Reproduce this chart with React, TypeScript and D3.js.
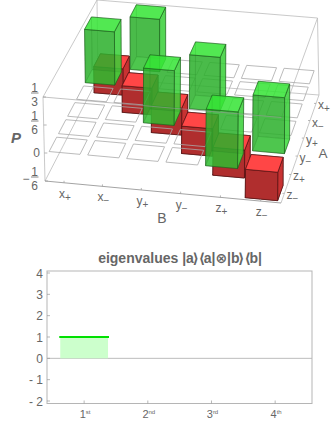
import React from "react";
import * as d3 from "d3";

const bLabels = ["x", "x", "y", "y", "z", "z"];
const signs = ["+", "-", "+", "-", "+", "-"];
const bKeys = ["x+", "x-", "y+", "y-", "z+", "z-"];
// rows run back to front along the A axis
const aKeys = ["x+", "x-", "y+", "y-", "z+", "z-"];
const pRows = [
  [-1 / 6, 1 / 3, 0, 0, 0, 0],
  [1 / 3, -1 / 6, 0, 0, 0, 0],
  [0, 0, -1 / 6, 1 / 3, 0, 0],
  [0, 0, 1 / 3, -1 / 6, 0, 0],
  [0, 0, 0, 0, -1 / 6, 1 / 3],
  [0, 0, 0, 0, 1 / 3, -1 / 6],
];
const pTicks = [
  { v: -1 / 6, n: "1", d: "6", neg: true },
  { v: 0, n: "0", d: "", neg: false },
  { v: 1 / 6, n: "1", d: "6", neg: false },
  { v: 1 / 3, n: "1", d: "3", neg: false },
];
const eigenvalues = [1, 0, 0, 0];
const ordinals = [["1", "st"], ["2", "nd"], ["3", "rd"], ["4", "th"]];
const eigenTicks = [-2, -1, 0, 1, 2, 3, 4];

type Pt = [number, number];

// unit square -> quad (front-left, front-right, back-right, back-left)
function homography(q: Pt[]) {
  const [p0, p1, p2, p3] = q;
  const dx1 = p1[0] - p2[0], dx2 = p3[0] - p2[0], sx = p0[0] - p1[0] + p2[0] - p3[0];
  const dy1 = p1[1] - p2[1], dy2 = p3[1] - p2[1], sy = p0[1] - p1[1] + p2[1] - p3[1];
  const det = dx1 * dy2 - dx2 * dy1;
  const g = (sx * dy2 - dx2 * sy) / det;
  const h = (dx1 * sy - sx * dy1) / det;
  const a = p1[0] - p0[0] + g * p1[0], b = p3[0] - p0[0] + h * p3[0];
  const d = p1[1] - p0[1] + g * p1[1], e = p3[1] - p0[1] + h * p3[1];
  return (u: number, v: number): Pt => {
    const w = g * u + h * v + 1;
    return [(a * u + b * v + p0[0]) / w, (d * u + e * v + p0[1]) / w];
  };
}

const floorH = homography([[45, 181], [281, 203], [319, 95], [98, 78]]);
const topH = homography([[43, 97], [281.5, 117.5], [317.5, 18], [97, 0]]);

const zScale = d3.scaleLinear().domain([-1 / 6, 1 / 3]).range([0, 1]);
const bScale = d3.scaleBand<string>().domain(bKeys).range([0, 1]).paddingInner(0.2).paddingOuter(0.1);
const aScale = d3.scaleBand<string>().domain([...aKeys].reverse()).range([0, 1]).paddingInner(0.2).paddingOuter(0.1);

function project(u: number, v: number, z: number): Pt {
  const t = zScale(z);
  const f = floorH(u, v);
  const c = topH(u, v);
  return [f[0] + (c[0] - f[0]) * t, f[1] + (c[1] - f[1]) * t];
}

const poly = d3.line<Pt>().curve(d3.curveLinearClosed);
const seg = d3.line<Pt>();

const GREY = "#666";
const BOX = "#bbb";
const FONT = "'Liberation Sans', 'DejaVu Sans', Arial, sans-serif";

function Bar({ u, v, w, val }: { u: number; v: number; w: number; val: number }) {
  const u1 = u + w, v1 = v + w;
  if (val === 0) {
    return <path d={poly([project(u, v, 0), project(u1, v, 0), project(u1, v1, 0), project(u, v1, 0)])!} fill="none" stroke="#aaa" strokeWidth={0.8} />;
  }
  const up = val > 0;
  const side = up ? "#2bb02b" : "#b02e2e";
  const right = up ? "#3cdc3c" : "#c83232";
  const top = up ? "#38f838" : "#ff4646";
  const op = up ? 0.62 : 1;
  const lo = Math.min(0, val), hi = Math.max(0, val);
  const face = (a: [number, number, number][]) => poly(a.map((p) => project(p[0], p[1], p[2])))!;
  // hidden faces first, then the three the viewer faces
  const faces: [string, string, number][] = [
    [face([[u, v1, lo], [u1, v1, lo], [u1, v1, hi], [u, v1, hi]]), side, 0.35],
    [face([[u, v, lo], [u, v1, lo], [u, v1, hi], [u, v, hi]]), side, 0.35],
    [face([[u, v, lo], [u1, v, lo], [u1, v1, lo], [u, v1, lo]]), right, 0.35],
    [face([[u1, v, lo], [u1, v1, lo], [u1, v1, hi], [u1, v, hi]]), right, 0.8],
    [face([[u, v, lo], [u1, v, lo], [u1, v, hi], [u, v, hi]]), side, 0.8],
    [face([[u, v, hi], [u1, v, hi], [u1, v1, hi], [u, v1, hi]]), top, 0.8],
  ];
  return (
    <g>
      {faces.map(([d, c, so], i) => (
        <path key={i} d={d} fill={c} fillOpacity={op} stroke={up ? "#1c5a1c" : "#4a1010"} strokeOpacity={up ? so : 0.9} strokeWidth={0.7} strokeLinejoin="round" />
      ))}
    </g>
  );
}

function Sub({ x, y, base, sign }: { x: number; y: number; base: string; sign: string }) {
  return (
    <text x={x} y={y} fontSize={12} fill={GREY} textAnchor="middle" fontFamily={FONT}>
      {base}
      <tspan fontSize={10} dy={3}>{sign === "+" ? "+" : "\u2212"}</tspan>
    </text>
  );
}

// lower chart scales
const exScale = d3.scaleBand<number>().domain(d3.range(4)).range([52.3, 307]).paddingInner(0.25).paddingOuter(0.125);
const eyScale = d3.scaleLinear().domain([-2, 4]).range([401, 273]);
const frame = { l: 47, r: 312, t: 271, b: 403.5 };

export default function App() {
  const c = (p: Pt[]) => seg(p)!;
  const corners = (z: number): Pt[] => [project(0, 0, z), project(1, 0, z), project(1, 1, z), project(0, 1, z)];
  const lo = corners(-1 / 6), hi = corners(1 / 3);
  return (
    <svg width={332} height={423} style={{ position: "absolute", left: 0, top: 0, background: "#fff" }}>
      {/* box */}
      <g fill="none" stroke={BOX} strokeWidth={0.8}>
        <path d={c([hi[0], hi[3], hi[2], hi[1]])} />
        <path d={c([lo[3], hi[3]])} />
        <path d={c([lo[2], hi[2]])} />
        <path d={c([lo[0], hi[0]])} />
        <path d={c([lo[3], lo[2]])} />
      </g>
      <path d={c([lo[0], lo[3]])} fill="none" stroke={BOX} strokeWidth={0.8} />
      <path d={c([lo[1], lo[2]])} fill="none" stroke={BOX} strokeWidth={0.8} />
      <path d={c([lo[0], lo[1]])} fill="none" stroke="#999" strokeWidth={0.9} />

      {/* flat cells and bars, back to front */}
      {pRows.map((row, ri) =>
        row.map((val, ci) => (
          <Bar key={`${ri}-${ci}`} u={bScale(bKeys[ci])!} v={aScale(aKeys[ri])!} w={bScale.bandwidth()} val={val} />
        ))
      )}

      {/* the front top edge lies over the bars */}
      <path d={c([hi[0], hi[1]])} fill="none" stroke="#999" strokeOpacity={0.75} strokeWidth={0.8} />

      {/* ticks */}
      <g stroke="#999" strokeWidth={0.7}>
        {bKeys.map((k) => {
          const u = bScale(k)! + bScale.bandwidth() / 2;
          const p = project(u, 0, -1 / 6);
          return <line key={k} x1={p[0]} y1={p[1]} x2={p[0]} y2={p[1] - 2} />;
        })}
        {aKeys.map((k) => {
          const v = aScale(k)! + aScale.bandwidth() / 2;
          const p = project(1, v, -1 / 6);
          return <line key={k} x1={p[0]} y1={p[1]} x2={p[0] - 2} y2={p[1]} />;
        })}
        {pTicks.map((t) => {
          const p = project(0, 0, t.v);
          return <line key={t.v} x1={p[0]} y1={p[1]} x2={p[0] + 3} y2={p[1]} />;
        })}
      </g>

      {/* axis labels */}
      {bKeys.map((k, i) => {
        const p = project(bScale(k)! + bScale.bandwidth() / 2, 0, -1 / 6);
        return <Sub key={k} x={p[0] + 1} y={p[1] + 15} base={bLabels[i]} sign={signs[i]} />;
      })}
      {aKeys.map((k, i) => {
        const p = project(1, aScale(k)! + aScale.bandwidth() / 2, -1 / 6);
        return <Sub key={k} x={p[0] + 8} y={p[1] + 6} base={k[0]} sign={k[1]} />;
      })}
      {pTicks.map((t) => {
        const p = project(0, 0, t.v);
        if (!t.d) {
          return <text key={t.v} x={36.5} y={p[1] + 4} fontSize={12} fill={GREY} textAnchor="middle" fontFamily={FONT}>{t.n}</text>;
        }
        return (
          <g key={t.v} fontSize={12} fill={GREY} textAnchor="middle" fontFamily={FONT}>
            {t.neg && <text x={26} y={p[1] + 2}>{"\u2212"}</text>}
            <text x={34.5} y={p[1] - 5}>{t.n}</text>
            <line x1={31} x2={38.5} y1={p[1] - 4} y2={p[1] - 4} stroke={GREY} strokeWidth={0.8} />
            <text x={34.5} y={p[1] + 9}>{t.d}</text>
          </g>
        );
      })}
      <text x={16} y={143} fontSize={15} fontWeight="bold" fontStyle="italic" fill={GREY} textAnchor="middle" fontFamily={FONT}>P</text>
      <text x={162} y={223} fontSize={14} fill={GREY} textAnchor="middle" fontFamily={FONT}>B</text>
      <text x={323} y={158} fontSize={13.5} fill={GREY} textAnchor="middle" fontFamily={FONT}>A</text>

      {/* eigenvalue chart */}
      <text x={180} y={263} fontSize={14} fontWeight="bold" fill={GREY} textAnchor="middle" fontFamily={FONT}>
        {"eigenvalues |a"}
        <tspan dx={-1.5}>{"\u27E9"}</tspan>
        <tspan>{"\u27E8"}</tspan>
        <tspan dx={-1.5}>{"a|\u2297|b"}</tspan>
        <tspan dx={-1.5}>{"\u27E9"}</tspan>
        <tspan>{"\u27E8"}</tspan>
        <tspan dx={-1.5}>{"b|"}</tspan>
      </text>
      <line x1={frame.l} x2={frame.r} y1={eyScale(0)} y2={eyScale(0)} stroke="#aaa" strokeWidth={0.8} />
      {eigenvalues.map((val, i) =>
        val === 0 ? null : (
          <g key={i}>
            <rect x={exScale(i)!} y={eyScale(val)} width={exScale.bandwidth()} height={eyScale(0) - eyScale(val)} fill="#ccffcc" />
            <line x1={exScale(i)! - 1} x2={exScale(i)! + 1 + exScale.bandwidth()} y1={eyScale(val)} y2={eyScale(val)} stroke="#00e000" strokeWidth={1.8} />
          </g>
        )
      )}
      <rect x={frame.l} y={frame.t} width={frame.r - frame.l} height={frame.b - frame.t} fill="none" stroke="#b5b5b5" strokeWidth={1} />
      <g stroke="#999" strokeWidth={0.7}>
        {eigenTicks.map((t) => (
          <line key={t} x1={frame.l} x2={frame.l + 3} y1={eyScale(t)} y2={eyScale(t)} />
        ))}
        {ordinals.map((o, i) => {
          const x = exScale(i)! + exScale.bandwidth() / 2;
          return <line key={o[0]} x1={x} x2={x} y1={frame.b} y2={frame.b - 3} />;
        })}
      </g>
      {eigenTicks.map((t) => (
        <text key={t} x={43} y={eyScale(t) + 4.5} fontSize={12} fill={GREY} textAnchor="end" fontFamily={FONT}>
          {t < 0 ? `- ${-t}` : t}
        </text>
      ))}
      {ordinals.map((o, i) => (
        <text key={o[0]} x={exScale(i)! + exScale.bandwidth() / 2 + 1} y={418} fontSize={11} fill={GREY} textAnchor="middle" fontFamily={FONT}>
          {o[0]}
          <tspan fontSize={6} dy={-4}>{o[1]}</tspan>
        </text>
      ))}
    </svg>
  );
}
